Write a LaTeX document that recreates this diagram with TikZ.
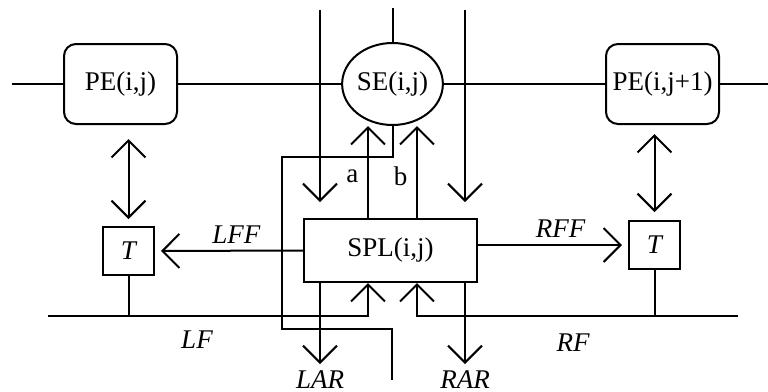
\documentclass[tikz,border=0pt]{standalone}
\usepackage{fontspec}
\setmainfont{Liberation Serif}
\usetikzlibrary{positioning,arrows.meta,shapes.geometric,calc}

\begin{document}
\begin{tikzpicture}[
  x=0.5pt, y=-0.5pt,
  font=\fontsize{13.5}{15}\selectfont,
  line width=1pt,
  pe/.style={draw, rounded corners=6pt, minimum width=56.5pt,
             minimum height=40pt, inner sep=0pt},
  sw/.style={draw, ellipse, minimum width=45.5pt, minimum height=41pt,
             inner sep=0pt},
  splbox/.style={draw, minimum width=86.5pt, minimum height=31.5pt},
  tbox/.style={draw, minimum width=25.5pt, minimum height=24pt,
               inner sep=0pt, font=\fontsize{13.5}{15}\selectfont\itshape},
  lbl/.style={font=\fontsize{13.5}{15}\selectfont\itshape},
  arr/.style={-{Straight Barb[length=8.5pt, width=17pt]}},
  dbl/.style={{Straight Barb[length=8.5pt, width=17pt]}-{Straight Barb[length=8.5pt, width=17pt]}}
]
\useasboundingbox (0,0) rectangle (768,392);
% processing elements and switch on the row bus
\node[pe] (pel) at (120.5,84) {PE(i,j)};
\node[sw] (se) at (392.5,84) {SE(i,j)};
\node[pe] (per) at (662.5,84) {PE(i,j+1)};
% switch control logic and the two transfer boxes
\node[splbox] (spl) at (390.5,250.5) {SPL(i,j)};
\node[tbox] (tl) at (128.5,251) {T};
\node[tbox] (tr) at (654.5,245) {T};

% free ends
\coordinate (wl) at (12,84);
\coordinate (we) at (768,84);
\coordinate (inl) at (320,10);
\coordinate (inr) at (465,10);
\coordinate (xa) at (368,0);
\coordinate (xb) at (417,0);
\coordinate (fb) at (392,380);
\coordinate (lf) at (48,316);
\coordinate (rf) at (738,316);

% row bus
\draw (wl) -- (pel) -- (se) -- (per) -- (we);
\draw (se.north) -- ++(0,-34);
% column inputs into SPL
\draw[arr, shorten >=8pt] (inl) -- (inl |- spl.north);
\draw[arr, shorten >=8pt] (inr) -- (inr |- spl.north);
% control lines a, b up to the switch
\draw[arr] (spl.north -| xa) -- node[left=1pt, pos=0.45]{a} (se.south -| xa);
\draw[arr] (spl.north -| xb) -- node[left=1pt, pos=0.45]{b} (se.south -| xb);
% switch output routed round the left of SPL
\draw (se.south) -- ++(0,31) -| (282,329) -| (fb);
% LF / RF buses into SPL
\draw[arr] (lf) -| (spl.south -| xa);
\draw[arr] (rf) -| (spl.south -| xb);
\node[lbl] (lflbl) at (197,340) {LF};
\node[lbl] (rflbl) at (573,343) {RF};
% outputs LAR / RAR
\draw[arr] (spl.south -| inl) -- ++(0,81) node[below=-0.5pt, lbl]{LAR};
\draw[arr] (spl.south -| inr) -- ++(0,81) node[below=-0.5pt, lbl]{RAR};
% forward links to the T boxes
\draw[arr, shorten >=3pt] (spl.west) -- node[above, lbl, pos=0.45]{LFF} (tl.east);
\draw[arr, shorten >=3pt] (spl.east |- tr.west) -- node[above, lbl, pos=0.55]{RFF} (tr.west);
% PE <-> T
\draw[dbl, shorten <=7pt, shorten >=3.5pt] (pel.south -| tl.north) -- (tl.north);
\draw[dbl, shorten <=4.5pt, shorten >=4pt] (per.south -| tr.north) -- (tr.north);
% T boxes hang on the buses
\draw (tl.south) -- (tl.south |- lf);
\draw (tr.south) -- (tr.south |- rf);
\end{tikzpicture}
\end{document}
